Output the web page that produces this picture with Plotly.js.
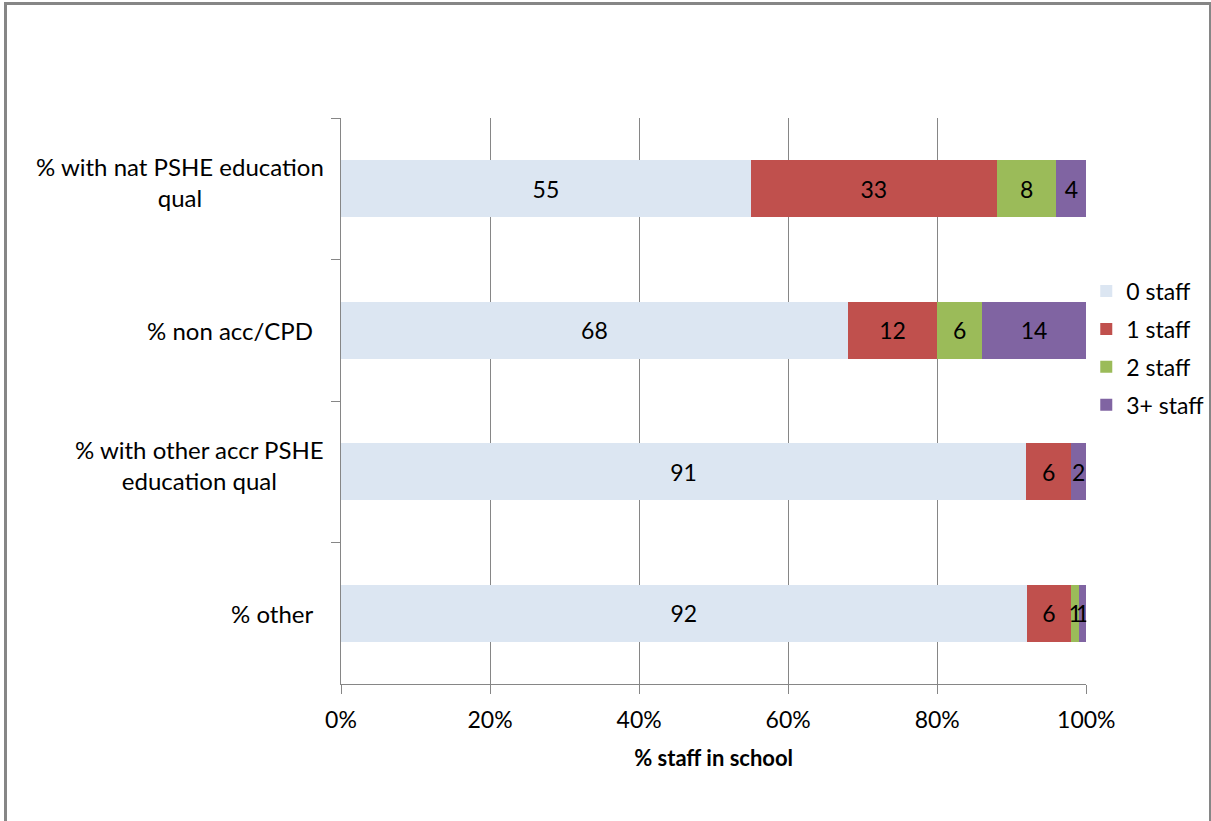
<!DOCTYPE html>
<html>
<head>
<meta charset="utf-8">
<script src="https://cdn.plot.ly/plotly-3.0.1.min.js"></script>
<style>
  html, body { margin: 0; padding: 0; background: #fff; }
  #frame {
    position: absolute; left: 4px; top: 2px; width: 1207px; height: 830px;
    border-left: 3px solid #868686; border-top: 3px solid #868686; border-right: 2px solid #868686;
    box-sizing: border-box;
  }
  #chart { position: absolute; left: 0; top: 0; width: 1211px; height: 821px; }
</style>
</head>
<body>
<div id="frame"></div>
<div id="chart"></div>
<script>
// Survey categories, top to bottom
const categories = [
  "% with nat PSHE education<br>qual",
  "% non acc/CPD",
  "% with other accr PSHE<br>education qual",
  "% other"
];
const seriesNames = ["0 staff", "1 staff", "2 staff", "3+ staff"];
const staff0 = [55, 68, 91, 92];
const staff1 = [33, 12, 6, 6];
const staff2 = [8, 6, null, 1];
const staff3 = [4, 14, 2, 1];
const xTickVals = [0, 20, 40, 60, 80, 100];

const colors = ["#DCE6F2", "#C0504D", "#9BBB59", "#8064A2"];
const FONT = "Lato, Carlito, 'Open Sans', sans-serif";
const grey = "#868686";

const series = [staff0, staff1, staff2, staff3];
const traces = series.map((vals, i) => ({
  type: "bar",
  orientation: "h",
  name: seriesNames[i],
  legendgroup: "g" + i,
  y: categories,
  x: vals,
  text: vals.map(v => (v === null ? "" : String(v))),
  textposition: "inside",
  insidetextanchor: "middle",
  textangle: 0,
  constraintext: "none",
  textfont: { family: FONT, size: 23, color: "#000" },
  marker: { color: colors[i], line: { width: 0 } },
  hoverinfo: "skip"
}));

// Category labels drawn as centred multi-line text left of the axis
const labelAnnotations = categories.map(c => {
  const wrapped = c.includes("<br>");
  return {
    xref: "paper", yref: "y",
    x: -0.02, y: c,
    xanchor: "right", yanchor: "middle",
    xshift: wrapped ? 0 : -11,
    yshift: wrapped ? 7 : 0,
    text: c, align: "center", showarrow: false,
    font: { family: FONT, size: 24, color: "#000" }
  };
});

const layout = {
  width: 1211, height: 821,
  margin: { l: 341, r: 124, t: 118, b: 137 },
  paper_bgcolor: "rgba(0,0,0,0)",
  plot_bgcolor: "rgba(0,0,0,0)",
  barmode: "stack",
  barnorm: "percent",
  bargap: 0.6,
  uniformtext: { mode: "show", minsize: 23 },
  xaxis: {
    range: [0, 100],
    tickvals: xTickVals,
    ticktext: xTickVals.map(v => v + "%"),
    showgrid: true, gridcolor: grey, gridwidth: 1,
    showline: true, linecolor: grey, linewidth: 1,
    ticks: "outside", ticklen: 9, tickcolor: grey,
    ticklabelstandoff: 6,
    tickfont: { family: FONT, size: 23, color: "#000" },
    zeroline: false,
    title: { text: "<b>% staff in school</b>", font: { family: FONT, size: 22, color: "#000" }, standoff: 19 }
  },
  yaxis: {
    categoryorder: "array", categoryarray: categories,
    autorange: "reversed",
    showticklabels: false,
    showgrid: false,
    showline: true, linecolor: grey, linewidth: 1,
    ticks: "outside", ticklen: 9, tickcolor: grey,
    tickson: "boundaries",
    zeroline: false
  },
  legend: {
    xref: "container", yref: "container",
    x: 0.897, xanchor: "left", y: 0.576, yanchor: "middle",
    traceorder: "grouped", tracegroupgap: 5,
    font: { family: FONT, size: 23, color: "#000" },
    itemwidth: 30,
    bgcolor: "rgba(0,0,0,0)"
  },
  annotations: labelAnnotations,
  showlegend: true
};

Plotly.newPlot("chart", traces, layout, { displayModeBar: false, staticPlot: true });
</script>
</body>
</html>
